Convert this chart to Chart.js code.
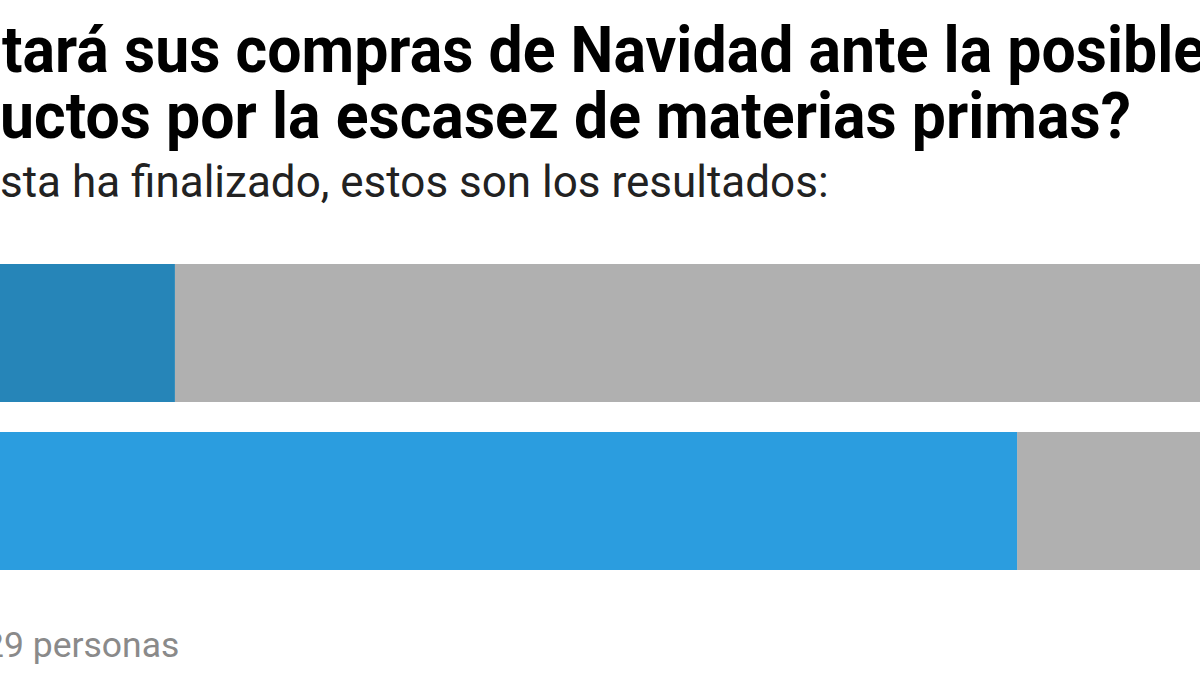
<!DOCTYPE html>
<html lang="es">
<head>
<meta charset="utf-8">
<script src="https://cdn.jsdelivr.net/npm/chart.js@4.4.0/dist/chart.umd.min.js"></script>
<style>
  html, body { margin: 0; padding: 0; background: #fff; }
  body { width: 1200px; height: 675px; overflow: hidden; position: relative; font-family: Roboto, "Noto Sans", sans-serif; }
  .line { position: absolute; white-space: nowrap; transform-origin: 0 0; }
  .line .pre { position: absolute; right: 100%; top: 0; }
  .title { font-weight: 700; font-size: 65px; line-height: 66px; color: #000; transform: scaleX(0.935); }
  .sub { font-size: 44px; line-height: 50px; color: #222; }
  .foot { font-size: 35.5px; line-height: 40px; color: #8a8a8a; }
  #poll { position: absolute; left: -130px; top: 249px; }
</style>
</head>
<body>
<div class="line title" style="left:2px; top:17px;"><span class="pre">¿Adelan</span>tará sus compras de Navidad ante la posible</div>
<div class="line title" style="left:0px; top:83px;"><span class="pre">prod</span>uctos por la escasez de materias primas?</div>
<div class="line sub" style="left:0px; top:157px;"><span class="pre">La encue</span>sta ha finalizado, estos son los resultados:</div>
<div class="line foot" style="left:4px; top:625px;"><span class="pre">Han votado 1.2</span>9 personas</div>
<canvas id="poll" width="1452" height="336"></canvas>
<script>
// ── Poll data ─────────────────────────────────────────────────────────────
const options = ['Sí', 'No'];
const votePct = [21, 79];
const restPct = [79, 21];
const voteColors = ['#2685b8', '#2b9ddf'];
const restColor = '#b0b0b0';

// ── Chart ─────────────────────────────────────────────────────────────────
const ctx = document.getElementById('poll').getContext('2d');
new Chart(ctx, {
  type: 'bar',
  data: {
    labels: options,
    datasets: [
      { label: 'Votos', data: votePct, backgroundColor: voteColors, borderWidth: 0 },
      { label: 'Resto', data: restPct, backgroundColor: restColor, borderWidth: 0 }
    ]
  },
  options: {
    indexAxis: 'y',
    responsive: false,
    devicePixelRatio: 1,
    animation: false,
    layout: { padding: 0 },
    datasets: { bar: { barPercentage: 138 / 168, categoryPercentage: 1 } },
    plugins: { legend: { display: false }, tooltip: { enabled: false } },
    scales: {
      x: { stacked: true, min: 0, max: 100, display: false },
      y: { stacked: true, display: false }
    }
  }
});
</script>
</body>
</html>
